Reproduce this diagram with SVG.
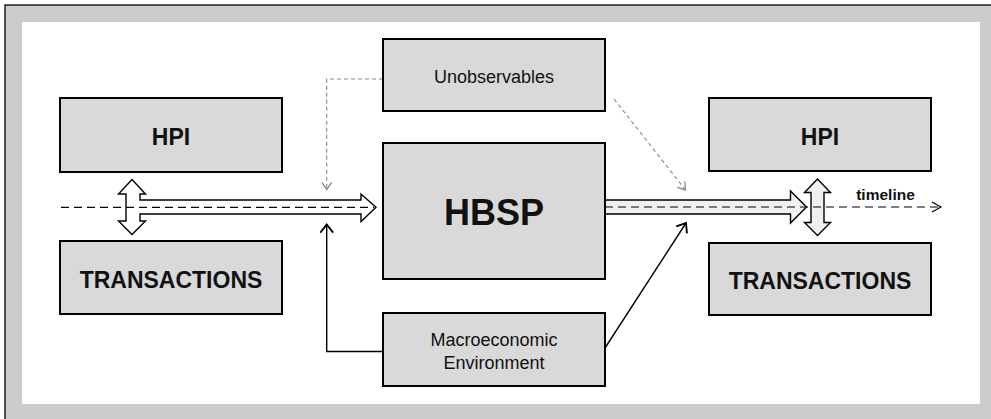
<svg xmlns="http://www.w3.org/2000/svg" width="991" height="419" viewBox="0 0 991 419">
<defs>
<style>
.box{fill:#d9d9d9;stroke:#000;stroke-width:2}
.t{font-family:"Liberation Sans",Arial,sans-serif;fill:#111;text-anchor:middle}
.b{font-weight:bold}
.blk{fill:none;stroke:#000;stroke-width:1.4}
.gry{fill:none;stroke:#888;stroke-width:1.1;stroke-dasharray:4 3}
.dash{fill:none;stroke:#000;stroke-width:1.2;stroke-dasharray:8 5}
.big{stroke:#000;stroke-width:1.4;stroke-linejoin:miter}
</style>
<marker id="ab" markerUnits="userSpaceOnUse" markerWidth="12" markerHeight="14" viewBox="-8 -6 10 12" refX="0" refY="0" orient="auto">
<path d="M-7,-5.5 L0,0 L-7,5.5" fill="none" stroke="#000" stroke-width="1.6"/>
</marker>
<marker id="ag" markerUnits="userSpaceOnUse" markerWidth="10" markerHeight="12" viewBox="-7 -5 8 10" refX="0" refY="0" orient="auto">
<path d="M-6,-4 L0,0 L-6,4" fill="none" stroke="#888" stroke-width="1.1"/>
</marker>
<marker id="at" markerUnits="userSpaceOnUse" markerWidth="12" markerHeight="12" viewBox="-10 -6 11 12" refX="0" refY="0" orient="auto">
<path d="M-9,-5 L0,0 L-9,5" fill="none" stroke="#000" stroke-width="1.2"/>
</marker>
</defs>
<rect x="5" y="5" width="1000" height="430" fill="#cccccc" stroke="#000" stroke-width="1.3"/>
<rect x="22" y="22" width="958" height="382" fill="#fff"/>

<g id="connectors">
<polygon class="big" fill="#fff" points="132,179.5 145.5,194 140,194 140,200 361,200 361,194 376,207.3 361,221.5 361,214 140,214 140,221 145.5,221 132,234.5 118.5,221 126,221 126,194 118.5,194"/>
<polygon class="big" fill="#f0f0f0" points="605,200 790.5,200 790.5,191 806.5,207 790.5,223 790.5,214 605,214"/>
<polygon class="big" fill="#f0f0f0" points="817.5,179 830.5,192.5 824,192.5 824,222.5 830.5,222.5 817.5,235.5 804.5,222.5 811,222.5 811,192.5 804.5,192.5"/>
<path class="dash" d="M61,207.3 L374,207.3"/>
<path class="dash" d="M605,207 L941,207" marker-end="url(#at)"/>
<path class="gry" d="M383,79 L326.7,79 L326.7,189.5" marker-end="url(#ag)"/>
<path class="gry" d="M614,99 L685.5,190" marker-end="url(#ag)"/>
<path class="blk" d="M383,351.5 L326.7,351.5 L326.7,224.5" marker-end="url(#ab)"/>
<path class="blk" d="M605,348 L686,223" marker-end="url(#ab)"/>
<text class="t b" x="885.5" y="200" font-size="15.5">timeline</text>
</g>

<g id="hpi-left">
<rect class="box" x="60" y="98" width="222" height="74"/>
<text class="t b" x="171" y="145" font-size="23">HPI</text>
</g>
<g id="transactions-left">
<rect class="box" x="60" y="241" width="222" height="73"/>
<text class="t b" x="171" y="287.5" font-size="23">TRANSACTIONS</text>
</g>
<g id="unobservables">
<rect class="box" x="383" y="39" width="222" height="72"/>
<text class="t" x="494" y="82.5" font-size="18">Unobservables</text>
</g>
<g id="hbsp">
<rect class="box" x="383" y="143" width="222" height="136"/>
<text class="t b" x="494" y="225" font-size="36">HBSP</text>
</g>
<g id="macro">
<rect class="box" x="383" y="313" width="222" height="73"/>
<text class="t" x="494" y="346" font-size="18">Macroeconomic</text>
<text class="t" x="494" y="368.5" font-size="18">Environment</text>
</g>
<g id="hpi-right">
<rect class="box" x="709" y="98" width="222" height="73"/>
<text class="t b" x="820" y="145" font-size="23">HPI</text>
</g>
<g id="transactions-right">
<rect class="box" x="709" y="243" width="222" height="72"/>
<text class="t b" x="820" y="288.5" font-size="23">TRANSACTIONS</text>
</g>
</svg>
